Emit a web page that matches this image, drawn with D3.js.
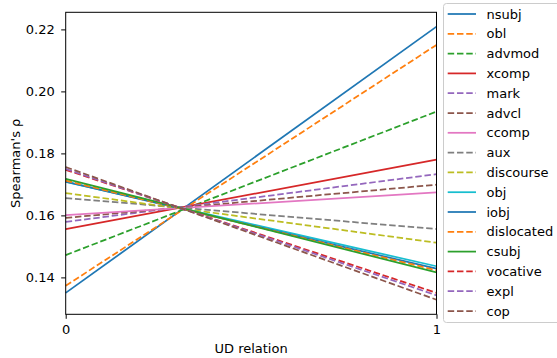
<!DOCTYPE html>
<html><head><meta charset="utf-8">
<script src="https://cdn.jsdelivr.net/npm/d3@7"></script>
<style>body{margin:0;background:#fff}svg{display:block;font-family:"DejaVu Sans",sans-serif}</style>
</head><body><svg id="c" width="557" height="358"></svg>
<script>
const relations = ["nsubj","obl","advmod","xcomp","mark","advcl","ccomp","aux","discourse","obj","iobj","dislocated","csubj","vocative","expl","cop"];
const valuesAt0 = [0.1350,0.1373,0.1472,0.1556,0.1579,0.1592,0.1601,0.1656,0.1672,0.1708,0.1709,0.1712,0.1718,0.1747,0.1750,0.1756];
const valuesAt1 = [0.2209,0.2150,0.1935,0.1780,0.1733,0.1699,0.1674,0.1556,0.1512,0.1436,0.1428,0.1423,0.1416,0.1350,0.1342,0.1328];
const dashed = [false,true,true,false,true,true,false,true,true,false,false,true,false,true,true,true];
const colors = ["#1f77b4","#ff7f0e","#2ca02c","#d62728","#9467bd","#8c564b","#e377c2","#7f7f7f","#bcbd22","#17becf","#1f77b4","#ff7f0e","#2ca02c","#d62728","#9467bd","#8c564b"];
const xTicks = [0,1];
const yTicks = [0.14,0.16,0.18,0.20,0.22];

const svg = d3.select("#c");
const L=65.7, R=436.5, T=12.3, B=314.3;
const x = d3.scaleLinear().domain([0,1]).range([L,R]);
const y = d3.scaleLinear().domain([0.14,0.22]).range([277.4,29.4]);
const fs = 13, lw = 1.75;

const g = svg.append("g");
const line = d3.line().x(d=>x(d[0])).y(d=>y(d[1]));
relations.forEach((r,i)=>{
  g.append("path").attr("d", line([[0,valuesAt0[i]],[1,valuesAt1[i]]]))
   .attr("fill","none").attr("stroke",colors[i]).attr("stroke-width",lw)
   .attr("stroke-dasharray", dashed[i] ? `${3.7*lw},${1.6*lw}` : null);
});

svg.append("rect").attr("x",L).attr("y",T).attr("width",R-L).attr("height",B-T)
  .attr("fill","none").attr("stroke","#000").attr("stroke-width",1);

const xa = svg.append("g").attr("transform",`translate(0,${B})`)
  .call(d3.axisBottom(x).tickValues(xTicks).tickFormat(d3.format("d")).tickSize(4.5).tickPadding(6));
const ya = svg.append("g").attr("transform",`translate(${L},0)`)
  .call(d3.axisLeft(y).tickValues(yTicks).tickFormat(d3.format(".2f")).tickSize(4.5).tickPadding(6.5));
[xa,ya].forEach(a=>{a.select(".domain").remove();
  a.selectAll("text").attr("font-size",fs).attr("font-family","DejaVu Sans").attr("fill","#000");
  a.selectAll("line").attr("stroke","#000").attr("stroke-width",1);});

svg.append("text").attr("x",(L+R)/2).attr("y",352.5).attr("text-anchor","middle")
  .attr("font-size",fs).text("UD relation");
svg.append("text").attr("transform",`translate(19.5,${(T+B)/2}) rotate(-90)`).attr("text-anchor","middle")
  .attr("font-size",fs).text("Spearman's ρ");

const lg = svg.append("g");
lg.append("rect").attr("x",443.5).attr("y",3.5).attr("width",130).attr("height",319)
  .attr("rx",3).attr("fill","#fff").attr("fill-opacity",0.8).attr("stroke","#ccc").attr("stroke-width",1);
relations.forEach((r,i)=>{
  const yy = 14 + i*19.8;
  lg.append("line").attr("x1",447.7).attr("x2",476).attr("y1",yy).attr("y2",yy)
    .attr("stroke",colors[i]).attr("stroke-width",lw)
    .attr("stroke-dasharray", dashed[i] ? `${3.7*lw},${1.6*lw}` : null);
  lg.append("text").attr("x",486.5).attr("y",yy).attr("dy","0.36em").attr("font-size",fs).text(r);
});
</script></body></html>
